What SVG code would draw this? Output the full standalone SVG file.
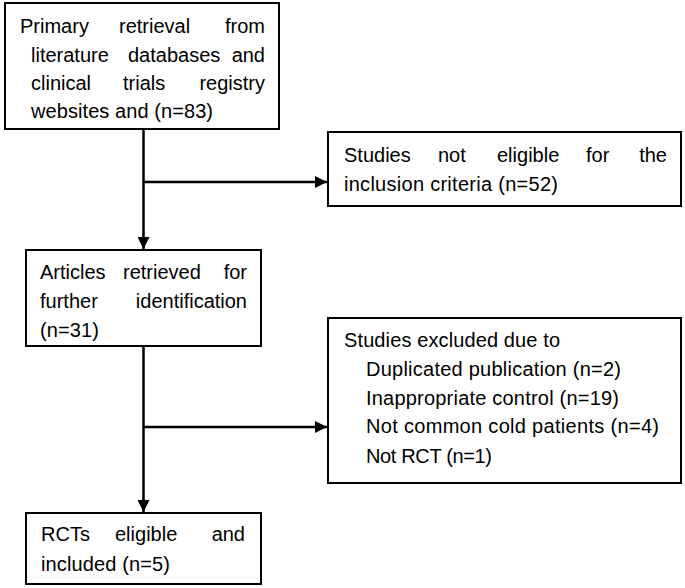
<svg xmlns="http://www.w3.org/2000/svg" width="685" height="588" viewBox="0 0 685 588">
<style>
.box{fill:#fff;stroke:#000;stroke-width:2}
.t{font-family:"Liberation Sans",Arial,sans-serif;font-size:20px;fill:#000}
.e{text-anchor:end}
.c{fill:none;stroke:#000;stroke-width:2.5}
</style>
<defs>
<marker id="arr" markerUnits="userSpaceOnUse" markerWidth="12" markerHeight="12" refX="12" refY="6" orient="auto">
<path d="M0,0 L12,6 L0,12 z" fill="#000"/>
</marker>
</defs>
<rect width="685" height="588" fill="#fff"/>
<g id="connectors">
<path class="c" d="M143.5 129 V249" marker-end="url(#arr)"/>
<path class="c" d="M143.5 182 H327" marker-end="url(#arr)"/>
<path class="c" d="M143.5 346 V512" marker-end="url(#arr)"/>
<path class="c" d="M143.5 427 H327" marker-end="url(#arr)"/>
</g>
<g id="n1">
<rect class="box" x="5" y="3" width="274" height="126"/>
<text class="t" y="33"><tspan x="20">Primary</tspan><tspan x="119">retrieval</tspan></text>
<text class="t e" x="265" y="33">from</text>
<text class="t" y="62"><tspan x="31">literature</tspan><tspan x="128">databases</tspan></text>
<text class="t e" x="265" y="62">and</text>
<text class="t" y="90"><tspan x="31">clinical</tspan><tspan x="123">trials</tspan></text>
<text class="t e" x="265" y="90">registry</text>
<text class="t" x="31" y="118" textLength="182" lengthAdjust="spacing">websites and (n=83)</text>
</g>
<g id="n2">
<rect class="box" x="328" y="132" width="353" height="74"/>
<text class="t" y="162"><tspan x="344">Studies</tspan><tspan x="438">not</tspan><tspan x="497">eligible</tspan><tspan x="586">for</tspan></text>
<text class="t e" x="667" y="162">the</text>
<text class="t" x="344" y="191" textLength="214" lengthAdjust="spacing">inclusion criteria (n=52)</text>
</g>
<g id="n3">
<rect class="box" x="26" y="250" width="235" height="96"/>
<text class="t" y="279"><tspan x="40">Articles</tspan><tspan x="123">retrieved</tspan></text>
<text class="t e" x="247" y="279">for</text>
<text class="t" x="40" y="308">further</text>
<text class="t e" x="247" y="308">identification</text>
<text class="t" x="40" y="337" textLength="59" lengthAdjust="spacing">(n=31)</text>
</g>
<g id="n4">
<rect class="box" x="328" y="318" width="353" height="165"/>
<text class="t" x="344" y="347" textLength="216" lengthAdjust="spacing">Studies excluded due to</text>
<text class="t" x="366" y="376" textLength="255" lengthAdjust="spacing">Duplicated publication (n=2)</text>
<text class="t" x="366" y="405" textLength="253" lengthAdjust="spacing">Inappropriate control (n=19)</text>
<text class="t" x="366" y="433" textLength="293" lengthAdjust="spacing">Not common cold patients (n=4)</text>
<text class="t" x="366" y="463" textLength="126" lengthAdjust="spacing">Not RCT (n=1)</text>
</g>
<g id="n5">
<rect class="box" x="26" y="513" width="235" height="71"/>
<text class="t" y="541"><tspan x="41">RCTs</tspan><tspan x="115">eligible</tspan></text>
<text class="t e" x="245" y="541">and</text>
<text class="t" x="41" y="571" textLength="129" lengthAdjust="spacing">included (n=5)</text>
</g>
</svg>
